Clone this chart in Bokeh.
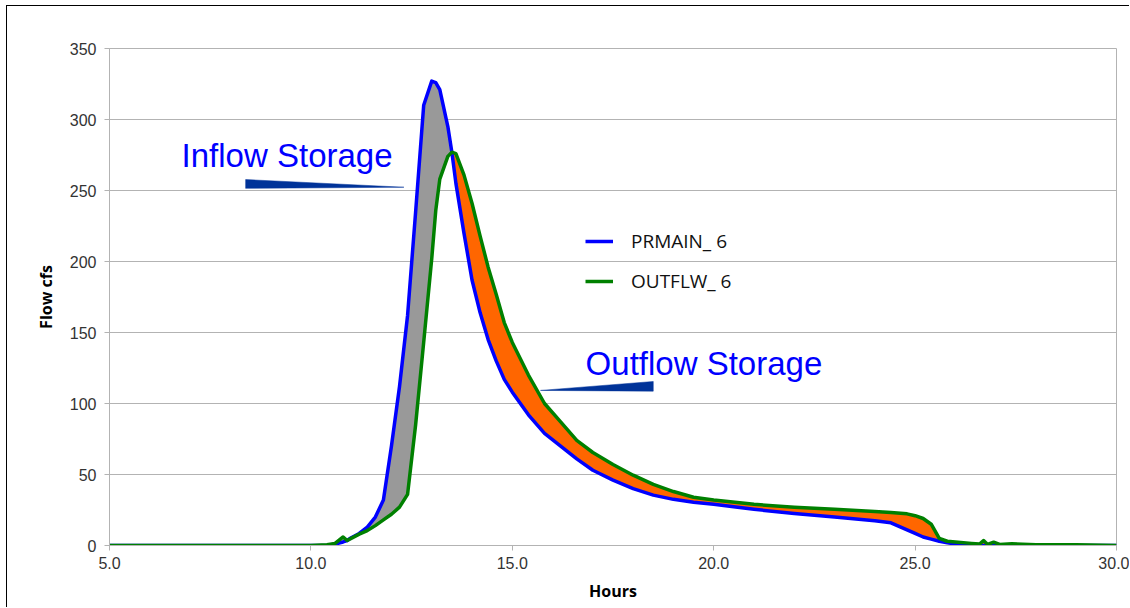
import numpy as np
from bokeh.plotting import figure
from bokeh.models import Range1d, FixedTicker, NumeralTickFormatter, Legend, LegendItem
from bokeh.core.properties import value
from bokeh.embed import file_html
from bokeh.resources import INLINE

# ---- data ----
hours = [5.0, 10.0, 10.4, 10.6, 10.8, 10.9, 11.0, 11.2, 11.4, 11.6, 11.8, 12.0, 12.2, 12.4,
         12.6, 12.8, 13.0, 13.1, 13.2, 13.4, 13.5, 13.6, 13.8, 14.0, 14.2, 14.4, 14.6, 14.8,
         15.0, 15.4, 15.8, 16.2, 16.6, 17.0, 17.5, 18.0, 18.5, 19.0, 19.5, 20.0, 21.0, 22.0,
         23.0, 24.0, 24.4, 24.8, 25.0, 25.2, 25.4, 25.6, 25.8, 26.0, 26.4, 26.6, 26.7, 26.8,
         26.95, 27.1, 27.4, 28.0, 29.0, 30.0]
prmain_6 = [0, 0, 0, 1.0, 2.5, 3.5, 5.5, 8.5, 13, 20, 32, 70, 112, 162,
            235, 310, 327, 326, 321, 295, 277, 255, 220, 187, 164, 145, 130, 117,
            108, 92, 79, 70, 61, 53, 46, 40, 35.5, 32.5, 30.5, 29, 25.5, 22.5,
            20, 17.5, 16, 11, 8.5, 6, 4.5, 3, 2, 1, 0.3, 0, 0, 0,
            0, 0, 0, 0, 0, 0]
outflw_6 = [0, 0, 0.5, 1.5, 6, 3.5, 5, 8, 10.5, 14, 18, 22, 27, 36,
            85, 143, 202, 236, 258, 274, 277, 276, 261, 241, 218, 196, 177, 157,
            143, 120, 100, 87, 74, 65.5, 57, 49.5, 43, 38, 34, 32, 29, 27,
            25.5, 24, 23.3, 22.3, 21, 19, 15, 5, 3, 2.5, 1.5, 1, 3.5, 0.7,
            2.3, 0.7, 1.2, 0.5, 0.5, 0]
series_labels = ["PRMAIN_ 6", "OUTFLW_ 6"]
crossing_hour = 13.5

x_ticks = [5, 10, 15, 20, 25, 30]
y_ticks = [0, 50, 100, 150, 200, 250, 300, 350]

# annotations (data coordinates)
ann_text = ["Inflow Storage", "Outflow Storage"]
ann_x = [6.79, 16.82]
ann_y = [274.5, 128.2]
wedge_in_x = [8.38, 8.38, 12.31]
wedge_in_y = [257.7, 251.5, 252.3]
wedge_out_x = [15.70, 18.50, 18.50]
wedge_out_y = [109.2, 108.7, 115.5]

# ---- figure ----
p = figure(width=1123, height=602, output_backend="svg", toolbar_location=None,
           x_range=Range1d(5, 30), y_range=Range1d(0, 350),
           min_border_left=102, min_border_right=14, min_border_top=42, min_border_bottom=63,
           background_fill_color="white", border_fill_color="white")
p.margin = (5, 0, 0, 6)
p.styles = {"border-left": "1px solid black", "border-top": "1px solid black"}
p.outline_line_color = "#b3b3b3"

h = np.array(hours)
inn = np.array(prmain_6, dtype=float)
out = np.array(outflw_6, dtype=float)
m1 = h <= crossing_hour
m2 = h >= crossing_hour

p.varea(x=h[m1], y1=out[m1], y2=inn[m1], fill_color="#999999")
p.varea(x=h[m2], y1=inn[m2], y2=out[m2], fill_color="#FF6600")

r_in = p.line(h, inn, line_color="#0000FF", line_width=3.5, line_join="round")
r_out = p.line(h, out, line_color="#008000", line_width=3.5, line_join="round")

p.patch(wedge_in_x, wedge_in_y, fill_color="#003399", line_color="#003399", line_width=0.5)
p.patch(wedge_out_x, wedge_out_y, fill_color="#003399", line_color="#003399", line_width=0.5)

p.text(x=ann_x, y=ann_y, text=ann_text, text_font=value("Liberation Sans"),
       text_font_size="33px", text_color="#0000FF", text_baseline="alphabetic", text_align="left")

legend = Legend(items=[LegendItem(label=series_labels[0], renderers=[r_in]),
                       LegendItem(label=series_labels[1], renderers=[r_out])],
                location=(476, 251), orientation="vertical",
                border_line_color=None, background_fill_alpha=0,
                padding=0, margin=0, spacing=14,
                glyph_width=28, glyph_height=20, label_height=20, label_standoff=18,
                label_text_font="Open Sans", label_text_font_size="19px",
                label_text_color="#111111")
p.add_layout(legend)

# axes
p.xgrid.visible = False
p.ygrid.grid_line_color = "#b3b3b3"
p.ygrid.grid_line_width = 1
for ax in (p.xaxis[0], p.yaxis[0]):
    ax.axis_line_color = "#b3b3b3"
    ax.major_tick_line_color = "#b3b3b3"
    ax.major_tick_out = 5
    ax.major_tick_in = 0
    ax.minor_tick_line_color = None
    ax.major_label_text_font = "Liberation Sans"
    ax.major_label_text_font_size = "16px"
    ax.major_label_text_color = "#333333"
    ax.axis_label_text_font = "Open Sans"
    ax.axis_label_text_font_style = "bold"
    ax.axis_label_text_font_size = "16px"
    ax.axis_label_text_color = "#000000"

p.xaxis[0].ticker = FixedTicker(ticks=x_ticks)
p.xaxis[0].formatter = NumeralTickFormatter(format="0.0")
p.xaxis[0].axis_label = "Hours"
p.xaxis[0].major_label_standoff = 6
p.xaxis[0].axis_label_standoff = 8

p.yaxis[0].ticker = FixedTicker(ticks=y_ticks)
p.yaxis[0].axis_label = "Flow cfs"
p.yaxis[0].major_label_standoff = 8
p.yaxis[0].axis_label_standoff = 10

open("out.html", "w").write(file_html(p, INLINE))
